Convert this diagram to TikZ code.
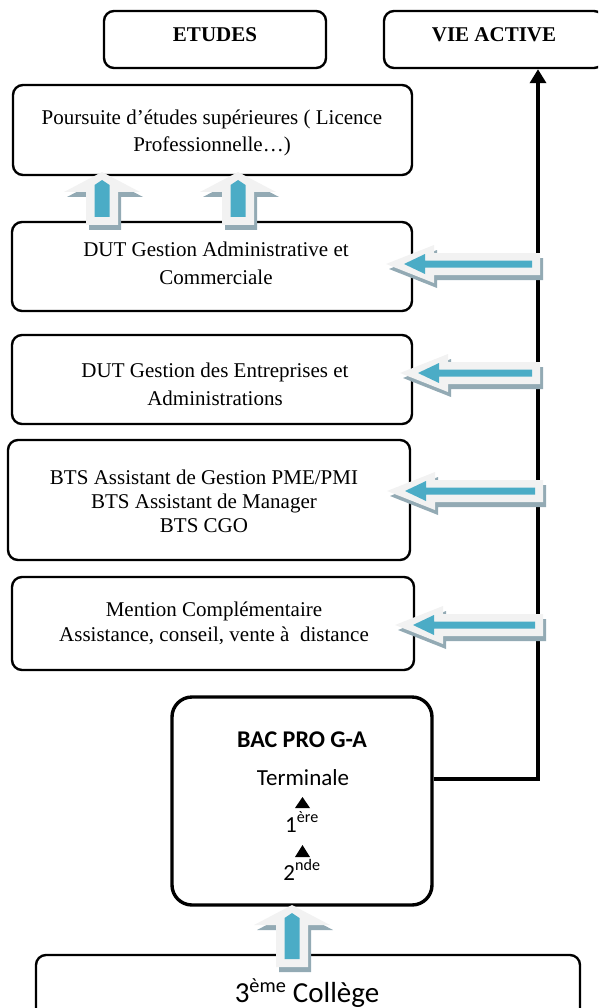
\documentclass[tikz,border=0pt]{standalone}
\usepackage{fontspec}
\setmainfont{Liberation Serif}
\newfontfamily\calib{Carlito}
\usetikzlibrary{arrows.meta}
\definecolor{arrlight}{HTML}{F2F2F2}
\definecolor{arrshadow}{HTML}{93AAB4}
\definecolor{arrblue}{HTML}{4BACC6}
% left block arrow: tip x, tail x, y
\newcommand{\lblockarrow}[3]{%
  \fill[arrshadow,shift={(3,5)}] (#1,#3) -- ({#1+48},{#3-19}) -- ({#1+48},{#3-11}) -- (#2,{#3-11}) -- (#2,{#3+11}) -- ({#1+48},{#3+11}) -- ({#1+48},{#3+19}) -- cycle;
  \fill[arrlight] (#1,#3) -- ({#1+48},{#3-19}) -- ({#1+48},{#3-11}) -- (#2,{#3-11}) -- (#2,{#3+11}) -- ({#1+48},{#3+11}) -- ({#1+48},{#3+19}) -- cycle;
  \fill[arrblue] ({#1+18},#3) -- ({#1+39},{#3-10}) -- ({#1+39},{#3-3.5}) -- ({#2-8},{#3-3.5}) -- ({#2-8},{#3+3.5}) -- ({#1+39},{#3+3.5}) -- ({#1+39},{#3+10}) -- cycle;
}
% up block arrow: centre x, tip y, bottom y
\newcommand{\ublockarrow}[3]{%
  \fill[arrshadow,shift={(3,5)}] (#1,#2) -- ({#1+38},{#2+20}) -- ({#1+16},{#2+20}) -- ({#1+16},#3) -- ({#1-16},#3) -- ({#1-16},{#2+20}) -- ({#1-38},{#2+20}) -- cycle;
  \fill[arrlight] (#1,#2) -- ({#1+38},{#2+20}) -- ({#1+16},{#2+20}) -- ({#1+16},#3) -- ({#1-16},#3) -- ({#1-16},{#2+20}) -- ({#1-38},{#2+20}) -- cycle;
  \fill[arrblue] ({#1-7.5},{#3-8}) -- ({#1-7.5},{#2+13}) -- (#1,{#2+8}) -- ({#1+7.5},{#2+13}) -- ({#1+7.5},{#3-8}) -- cycle;
}
\begin{document}
\begin{tikzpicture}[x=1pt,y=-1pt,
  box/.style={draw=black, line width=2.4pt, rounded corners=10pt, inner sep=0pt},
  bigbox/.style={draw=black, line width=3.4pt, rounded corners=20pt, inner sep=0pt},
  txt/.style={inner sep=0pt, align=center, font=\fontsize{21}{27}\selectfont},
  stxt/.style={inner sep=0pt, anchor=base, font=\calib\fontsize{23}{27}\selectfont},
  conn/.style={line width=4.5pt, -{Triangle[width=16pt,length=14pt]}}
]
\useasboundingbox (0,0) rectangle (598,1008);
\clip (0,0) rectangle (598,1008);

% boxes
\node[box, minimum width=222pt, minimum height=57pt] (etudes) at (215,39.5) {};
\node[box, minimum width=220pt, minimum height=57pt] (vie) at (494,39.5) {};
\node[box, minimum width=399pt, minimum height=90pt] (pours) at (212.5,130) {};
\node[box, minimum width=400pt, minimum height=89pt] (gac) at (212,266.5) {};
\node[box, minimum width=400pt, minimum height=89pt] (gea) at (212,379.5) {};
\node[box, minimum width=402pt, minimum height=120pt] (bts) at (209,500) {};
\node[box, minimum width=402pt, minimum height=93pt] (ment) at (213,623.5) {};
\node[bigbox, minimum width=260pt, minimum height=208pt] (bac) at (302,801) {};
\node[box, minimum width=544pt, minimum height=70pt] (college) at (308,990) {};

% texts
\node[txt, font=\bfseries\fontsize{21}{27}\selectfont] (etudesT) at (215,35) {ETUDES};
\node[txt, font=\bfseries\fontsize{21}{27}\selectfont] (vieT) at (494,35) {VIE ACTIVE};
\node[txt] (poursT) at (212,133) {Poursuite d’études supérieures ( Licence\\Professionnelle…)};
\node[txt, font=\fontsize{21}{28}\selectfont] (gacT) at (216,263) {DUT Gestion Administrative et\\Commerciale};
\node[txt, font=\fontsize{21}{28}\selectfont] (geaT) at (215,384) {DUT Gestion des Entreprises et\\Administrations};
\node[txt, font=\fontsize{21}{24}\selectfont] (btsT) at (204,501) {BTS Assistant de Gestion PME/PMI\\BTS Assistant de Manager\\BTS CGO};
\node[txt, font=\fontsize{21}{25}\selectfont] (mentT) at (214,623) {Mention Complémentaire\\Assistance, conseil, vente à\ \ distance};

\node[stxt, font=\calib\bfseries\fontsize{24}{28}\selectfont] (bacT) at (302,747) {BAC PRO G-A};
\node[stxt] (term) at (303,785) {Terminale};
\node[stxt] (first) at (302,832) {1\textsuperscript{ère}};
\node[stxt] (second) at (302,880) {2\textsuperscript{nde}};
\node[stxt, font=\calib\fontsize{29}{32}\selectfont] (collT) at (307,1002) {3\textsuperscript{ème} Collège};
\fill (295,808) -- (310,808) -- (302.5,797) -- cycle;
\fill (295,857) -- (310,857) -- (302.5,845) -- cycle;

% connector to VIE ACTIVE
\coordinate (turn) at (538,779);
\draw[conn] (bac.east |- turn) -- (turn) -- (vie.south -| turn);

% block arrows
\lblockarrow{386}{540}{264}
\lblockarrow{400}{540}{373}
\lblockarrow{387}{543}{491}
\lblockarrow{395}{543}{625}
\ublockarrow{102}{172}{225}
\ublockarrow{238}{172}{225}
\ublockarrow{292}{905}{967}
\end{tikzpicture}
\end{document}
